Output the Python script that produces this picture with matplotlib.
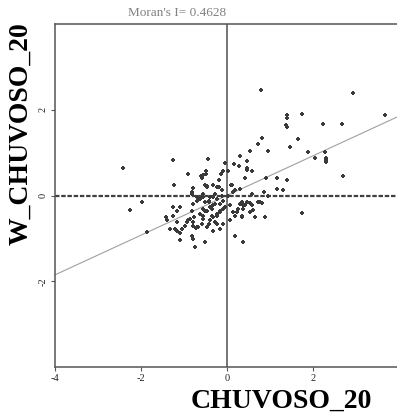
import matplotlib
matplotlib.use("Agg")
import matplotlib.pyplot as plt

# Moran scatter plot values (standardized values)
moran_i = 0.4628
x_label = "CHUVOSO_20"
y_label = "W_CHUVOSO_20"

x_vals = [
    0.78, 2.92, 3.67, 1.74, 1.39, 1.39, 1.37, 1.39, 2.24, 2.67,
    0.82, 0.71, 1.66, 1.47, 0.53, 0.95, 1.89, 2.05, 2.28, 2.30,
    2.30, 2.30, 2.70, 0.30, 0.47, 0.46, 0.46, 0.57, 0.43, 0.17,
    0.29, 0.90, 1.17, 1.39, 0.87, 1.17, 1.31, 0.57, 0.30, 0.96,
    0.02, 0.11, 0.15, 0.09, 0.19, -0.05,
    -2.41, -1.26, -0.45, -0.90, -1.23, -0.80, -0.81, -0.81, -0.61, -0.55,
    -0.49, -0.49, -0.51, -0.47, -0.32, -0.18, -0.15, -0.09, -0.18, -0.12,
    -0.59, -0.47, -0.24, -0.28, -0.12, -0.55, -0.40, -0.70, 0.03,
    -1.97, -2.25, -1.87, -1.42, -1.26, -1.09, -1.40, -1.32, -1.16, -1.09,
    -1.09, -1.04, -1.17, -0.94, -0.86, -0.80, -0.81, -0.80, -0.74, -0.73,
    -0.70, -0.77, -0.82, -1.17, -1.25,
    -0.78, -0.70, -0.63, -0.55, -0.51, -0.43, -0.33, -0.24, -0.32, -0.40,
    -0.16, -0.10, -0.09, -0.16, -0.24, -0.32, -0.40, -0.43, -0.55, -0.59,
    -0.67, -0.90, -0.78, -0.63, -0.55, -0.47, -0.36, -0.28, -0.24, -0.16,
    -0.09, -0.51, -1.21, -0.98, -0.32, -0.47, -0.55, -0.24, -0.16, -0.05,
    -0.51, -0.36, -0.28, -0.43,
    0.07, 0.19, 0.23, 0.26, 0.07, 0.19, 0.38, 1.75, 0.65, 0.88,
    0.53, 0.34, 0.15, 0.38, 0.57, 0.77, 0.46, 0.30, 0.34, 0.53,
    0.73, 0.81, 0.42, 0.60, 0.34, 0.38,
]
y_vals = [
    2.47, 2.38, 1.87, 1.91, 1.87, 1.81, 1.65, 1.60, 1.67, 1.67,
    1.33, 1.19, 1.31, 1.13, 1.04, 1.04, 1.01, 0.87, 1.01, 0.87,
    0.82, 0.77, 0.46, 0.92, 0.80, 0.65, 0.60, 0.56, 0.41, 0.73,
    0.69, 0.41, 0.41, 0.37, 0.09, 0.16, 0.13, 0.04, 0.16, -0.02,
    0.57, 0.25, 0.09, 0.25, 0.13, 0.76,
    0.64, 0.83, 0.86, 0.49, 0.25, 0.17, 0.08, 0.04, 0.45, 0.48,
    0.58, 0.51, 0.25, 0.19, 0.25, 0.37, 0.49, 0.57, 0.19, 0.13,
    0.41, 0.23, 0.19, 0.04, 0.00, 0.04, -0.04, -0.04, 0.00,
    -0.16, -0.34, -0.85, -0.49, -0.27, -0.27, -0.58, -0.78, -0.82, -0.87,
    -1.03, -0.78, -0.62, -0.62, -0.55, -0.70, -0.94, -1.01, -1.21, -0.76,
    -0.73, -0.51, -0.35, -0.37, -0.47,
    -0.19, -0.12, -0.08, -0.04, -0.16, -0.12, -0.04, -0.08, -0.23, -0.27,
    -0.19, -0.12, -0.31, -0.39, -0.43, -0.51, -0.58, -0.66, -0.47, -0.66,
    -0.74, -0.58, -0.62, -0.43, -0.31, -0.35, -0.47, -0.62, -0.66, -0.78,
    -0.66, -1.09, -0.78, -0.70, -0.82, -0.74, -0.55, -0.47, -0.35, -0.27,
    -0.35, -0.31, -0.19, -0.16,
    -0.58, -0.47, -0.39, -0.31, -0.23, -0.94, -1.09, -0.41, -0.51, -0.49,
    -0.39, -0.47, -0.39, -0.31, -0.23, -0.16, -0.16, -0.19, -0.16, -0.17,
    -0.14, -0.17, -0.23, -0.33, -0.51, -0.21,
]
x_ticks = [-4, -2, 0, 2, 4]
y_ticks = [-2, 0, 2]

serif = "Liberation Serif"

fig = plt.figure(figsize=(3.97, 4.17), dpi=100)
ax = fig.add_axes([55 / 397, 1 - 367 / 417, 344 / 397, 343 / 417])
ax.set_xlim(-4, 4)
ax.set_ylim(-4, 4)

# regression line (slope = Moran's I)
ax.plot([-4, 4], [-4 * moran_i, 4 * moran_i], color="#a0a0a0", lw=0.8, zorder=1)
ax.axvline(0, color="#505050", lw=1.1, zorder=2)
ax.axhline(0, color="#404040", lw=1.6, ls=(0, (2.0, 0.8)), zorder=2)

ax.scatter(x_vals, y_vals, marker="P", s=10, color="#3a3a3a", linewidths=0, zorder=3)

for side in ["left", "top", "bottom"]:
    ax.spines[side].set_color("#555555")
    ax.spines[side].set_linewidth(1.1)
ax.spines["right"].set_visible(False)

ax.set_xticks(x_ticks)
ax.set_yticks(y_ticks)
ax.set_xticklabels([str(t) for t in x_ticks], fontfamily=serif, fontsize=7.5, color="#222222")
ax.set_yticklabels([str(t) for t in y_ticks], fontfamily=serif, fontsize=7.5, color="#222222",
                   rotation=90, va="center")
ax.tick_params(length=3, width=0.8, color="#555555", pad=2)

fig.text(177 / 397, 1 - 13 / 417, "Moran's I= %.4f" % moran_i, fontfamily=serif,
         fontsize=9.5, color="#808080", ha="center", va="center")
fig.text(281 / 397, 1 - 408 / 417, x_label, fontfamily=serif, fontweight="bold",
         fontsize=20, ha="center", va="baseline")
fig.text(21 / 397, 1 - 134 / 417, y_label, fontfamily=serif, fontweight="bold",
         fontsize=20, rotation=90, ha="center", va="center")

fig.savefig("out.png", dpi=100)
